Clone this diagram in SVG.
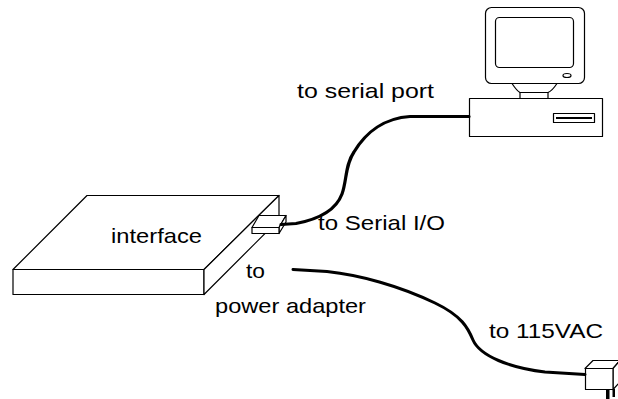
<svg xmlns="http://www.w3.org/2000/svg" width="618" height="399" viewBox="0 0 618 399">
  <style>
    .ln { fill: #fff; stroke: #000; stroke-width: 1.2; stroke-linejoin: round; }
    .cable { fill: none; stroke: #000; stroke-linecap: round; stroke-linejoin: round; }
    .lbl { font-family: "Liberation Sans", Arial, sans-serif; font-size: 21px; fill: #000; }
  </style>
  <rect width="618" height="399" fill="#fff"/>

  <!-- interface box -->
  <g id="interface">
    <polygon class="ln" points="87,195.5 279,195.5 204,269.5 13,269.5"/>
    <rect class="ln" x="13" y="269.5" width="191" height="25"/>
    <polygon class="ln" points="204,269.5 279,195.5 279,219.5 204,294.5"/>
    <text class="lbl" x="111" y="243" textLength="91" lengthAdjust="spacingAndGlyphs">interface</text>
  </g>

  <!-- serial plug on the box -->
  <g id="serial-plug">
    <polygon class="ln" points="252,227.5 259,215.5 286,215.5 279,227.5"/>
    <polygon class="ln" points="279,227.5 286,215.5 286,222 279,233.5"/>
    <rect class="ln" x="252" y="227.5" width="27" height="6"/>
  </g>

  <!-- computer -->
  <g id="computer">
    <rect class="ln" x="485.5" y="7.5" width="99" height="76" rx="6"/>
    <rect class="ln" x="495.5" y="17.5" width="78" height="50" rx="4"/>
    <ellipse class="ln" cx="567" cy="75.5" rx="4" ry="2"/>
    <path class="ln" d="M512,83.5 Q517,91 520,92.5 L548,92.5 Q552,91 557,83.5 Z"/>
    <rect class="ln" x="520" y="92.5" width="28" height="6"/>
    <rect class="ln" x="469.5" y="98.5" width="133" height="38"/>
    <rect class="ln" x="553.5" y="113.5" width="41" height="9"/>
    <line x1="556" y1="118" x2="592" y2="118" stroke="#000" stroke-width="2.2"/>
  </g>

  <!-- AC plug -->
  <g id="ac-plug">
    <polygon class="ln" points="585,368.5 593,360.5 620,360.5 613,368.5"/>
    <polygon class="ln" points="613,368.5 620,360.5 620,382 613,389.5"/>
    <rect class="ln" x="585.5" y="368.5" width="27.5" height="21"/>
    <rect x="606" y="389" width="3.5" height="10" fill="#000"/>
    <rect x="612.5" y="389" width="2.5" height="8" fill="#000"/>
  </g>

  <!-- cables -->
  <g id="connectors">
    <path class="cable" stroke-width="3.2" d="M281,224.5 L296,223.5 C320,219 336,210 342,194 C347,180 345,165 354,152 C366,132 385,118 410,116.5 L469,116.5"/>
    <path class="cable" stroke-width="3" d="M293,269.5 L327,271.5 C360,275 400,286 435,303 C462,316 468,328 473,340 C480,356 510,368 545,372 L585,374.5"/>
  </g>

  <g id="labels">
    <text class="lbl" x="297" y="98" textLength="137" lengthAdjust="spacingAndGlyphs">to serial port</text>
    <text class="lbl" x="318" y="230" textLength="127" lengthAdjust="spacingAndGlyphs">to Serial I/O</text>
    <text class="lbl" x="246" y="278" textLength="19" lengthAdjust="spacingAndGlyphs">to</text>
    <text class="lbl" x="215" y="313" textLength="151" lengthAdjust="spacingAndGlyphs">power adapter</text>
    <text class="lbl" x="489" y="338" textLength="114" lengthAdjust="spacingAndGlyphs">to 115VAC</text>
  </g>
</svg>
